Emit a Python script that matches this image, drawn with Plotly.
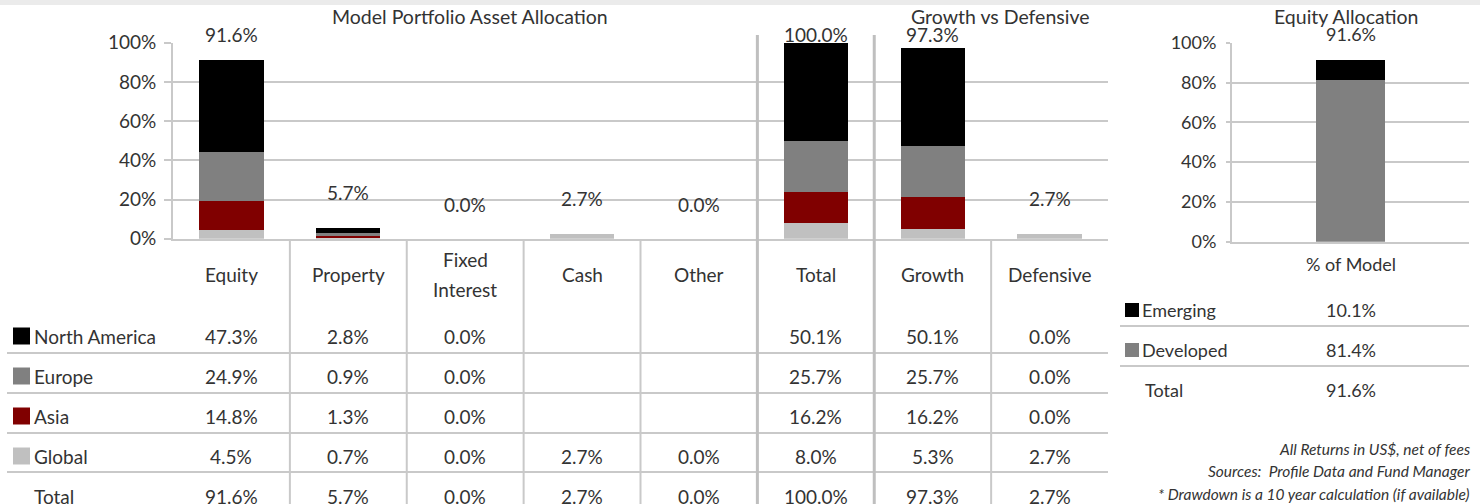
import plotly.graph_objects as go

W, H = 1480, 504

# ---------------- data ----------------
categories = ["Equity", "Property", "Fixed Interest", "Cash", "Other", "Total", "Growth", "Defensive"]
north_america = [47.3, 2.8, 0.0, None, None, 50.1, 50.1, 0.0]
europe = [24.9, 0.9, 0.0, None, None, 25.7, 25.7, 0.0]
asia = [14.8, 1.3, 0.0, None, None, 16.2, 16.2, 0.0]
global_ = [4.5, 0.7, 0.0, 2.7, 0.0, 8.0, 5.3, 2.7]
totals = [91.6, 5.7, 0.0, 2.7, 0.0, 100.0, 97.3, 2.7]

region_names = ["North America", "Europe", "Asia", "Global"]
region_colors = ["#000000", "#808080", "#800000", "#c0c0c0"]

eq_category = ["% of Model"]
eq_names = ["Emerging", "Developed"]
eq_colors = ["#000000", "#808080"]
emerging = [10.1]
developed = [81.4]
eq_total = [91.6]

y_ticks = [0, 20, 40, 60, 80, 100]
y_ticktext = ["0%", "20%", "40%", "60%", "80%", "100%"]

titles = ["Model Portfolio Asset Allocation", "Growth vs Defensive", "Equity Allocation"]
footnotes = ["All Returns in US$, net of fees",
             "Sources:  Profile Data and Fund Manager",
             "* Drawdown is a 10 year calculation (if available)"]

# ---------------- helpers ----------------
def PX(x):
    return x / W

def PY(y):
    return 1 - y / H

FONT = "Lato"
TXT = "#333333"
GRID = "#c9c9c9"
FS = 19      # main font size
FS2 = 18     # right panel font size


def txt(x, y, text, xref="paper", yref="paper", size=FS, xanchor="center", yanchor="middle"):
    return dict(x=x, y=y, xref=xref, yref=yref, text=text, showarrow=False,
                xanchor=xanchor, yanchor=yanchor,
                font=dict(family=FONT, size=size, color=TXT))


fig = go.Figure()

# main stacked bars (bottom to top)
series = [global_, asia, europe, north_america]
series_names = region_names[::-1]
series_colors = region_colors[::-1]
for vals, name, col in zip(series, series_names, series_colors):
    fig.add_trace(go.Bar(x=categories, y=vals, name=name, marker_color=col,
                         marker_line_width=0, width=0.55, xaxis="x", yaxis="y",
                         showlegend=False, hoverinfo="skip"))

# equity allocation bars
for vals, name, col in zip([developed, emerging], ["Developed", "Emerging"], ["#808080", "#000000"]):
    fig.add_trace(go.Bar(x=eq_category, y=vals, name=name, marker_color=col,
                         marker_line_width=0, width=0.29, xaxis="x2", yaxis="y2",
                         showlegend=False, hoverinfo="skip"))

annotations = []
shapes = []

# data labels above bars (y in axis-domain fraction: value / 100)
for cat, tot in zip(categories, totals):
    annotations.append(txt(cat, min(tot + 17.7, 104.3) / 100, f"{tot:.1f}%",
                           xref="x", yref="y domain"))
for cat, tot in zip(eq_category, eq_total):
    annotations.append(txt(cat, min(tot + 17.7, 104.3) / 100, f"{tot:.1f}%",
                           xref="x2", yref="y2 domain", size=FS2))

# titles
title_pos = [(470, 17), (1000, 17), (1346, 17)]
for t, (tx, ty) in zip(titles, title_pos):
    annotations.append(txt(PX(tx), PY(ty), t, size=19.5))

# table header (category labels)
for i, cat in enumerate(categories):
    words = cat.split(" ")
    n = len(words)
    for k, w in enumerate(words):
        yy = 274 + (k - (n - 1) / 2) * 30
        annotations.append(txt(i, PY(yy), w, xref="x"))

# table rows
rows = [north_america, europe, asia, global_, totals]
row_labels = region_names + ["Total"]
row_y = [336, 376, 416, 456, 496]
for r, (vals, lab, yy) in enumerate(zip(rows, row_labels, row_y)):
    for i, v in enumerate(vals):
        if v is None:
            continue
        annotations.append(txt(i, PY(yy), f"{v:.1f}%", xref="x"))
    annotations.append(txt(PX(32), PY(yy), lab, xanchor="left"))
    if r < 4:
        shapes.append(dict(type="rect", xref="paper", yref="paper",
                           x0=PX(13), x1=PX(30), y0=PY(yy - 8.5), y1=PY(yy + 8.5),
                           fillcolor=region_colors[r], line_width=0))

# row lines
for yy in [353, 393, 433, 472]:
    shapes.append(dict(type="line", xref="paper", yref="paper", x0=PX(7), x1=PX(1108),
                       y0=PY(yy), y1=PY(yy), line=dict(color=GRID, width=2)))

# column separators
for k in [0.5, 1.5, 2.5, 3.5, 6.5]:
    shapes.append(dict(type="line", xref="x", yref="paper", x0=k, x1=k,
                       y0=PY(239), y1=PY(504), line=dict(color=GRID, width=2)))
for k in [4.5, 5.5]:
    shapes.append(dict(type="line", xref="x", yref="paper", x0=k, x1=k,
                       y0=PY(35), y1=PY(504), line=dict(color="#bfbfbf", width=3)))

# equity allocation table
annotations.append(txt(eq_category[0], PY(264), eq_category[0], xref="x2", size=FS2))
eq_rows = [emerging, developed, eq_total]
eq_labels = eq_names + ["Total"]
eq_y = [310, 350, 390]
for r, (vals, lab, yy) in enumerate(zip(eq_rows, eq_labels, eq_y)):
    annotations.append(txt(eq_category[0], PY(yy), f"{vals[0]:.1f}%", xref="x2", size=FS2))
    annotations.append(txt(PX(1140 if r < 2 else 1143), PY(yy), lab, size=FS2, xanchor="left"))
    if r < 2:
        shapes.append(dict(type="rect", xref="paper", yref="paper",
                           x0=PX(1125), x1=PX(1139), y0=PY(yy - 7), y1=PY(yy + 7),
                           fillcolor=eq_colors[r], line_width=0))
for yy in [326, 366]:
    shapes.append(dict(type="line", xref="paper", yref="paper", x0=PX(1120), x1=PX(1469),
                       y0=PY(yy), y1=PY(yy), line=dict(color=GRID, width=2)))

# footnotes
for t, yy in zip(footnotes, [449, 471, 494]):
    annotations.append(txt(PX(1472), PY(yy), f"<i>{t}</i>", size=15.5, xanchor="right"))

# top strip
shapes.append(dict(type="rect", xref="paper", yref="paper", x0=0, x1=1, y0=PY(5), y1=1,
                   fillcolor="#ebebeb", line_width=0, layer="below"))

yaxis_common = dict(range=[0, 100], tickvals=y_ticks, ticktext=y_ticktext,
                    showgrid=True, gridcolor=GRID, gridwidth=2, zeroline=False,
                    showline=True, linecolor=GRID, linewidth=2,
                    ticks="outside", tickcolor=GRID, tickwidth=2, fixedrange=True)

fig.update_layout(
    width=W, height=H, margin=dict(l=0, r=0, t=0, b=0, autoexpand=False),
    paper_bgcolor="white", plot_bgcolor="white",
    barmode="stack", bargap=0,
    xaxis=dict(domain=[PX(173), PX(1108)], type="category", categoryarray=categories,
               range=[-0.5, 7.5], showticklabels=False, showgrid=False, zeroline=False,
               showline=True, linecolor=GRID, linewidth=2, ticks="", anchor="y",
               fixedrange=True),
    yaxis=dict(domain=[PY(238.7), PY(42.7)], anchor="x", ticklen=7, ticklabelstandoff=4,
               tickfont=dict(family=FONT, size=FS, color=TXT), **yaxis_common),
    xaxis2=dict(domain=[PX(1232), PX(1469)], type="category", range=[-0.5, 0.5],
                showticklabels=False, showgrid=False, zeroline=False,
                showline=True, linecolor=GRID, linewidth=2, ticks="", anchor="y2",
                fixedrange=True),
    yaxis2=dict(domain=[PY(241.7), PY(42.7)], anchor="x2", ticklen=4, ticklabelstandoff=6,
                tickfont=dict(family=FONT, size=FS2, color=TXT), **yaxis_common),
    annotations=annotations, shapes=shapes, showlegend=False,
)

fig.write_html("out.html", config={"displayModeBar": False},
               post_script="document.body.style.margin='0';document.body.style.overflow='hidden';")
